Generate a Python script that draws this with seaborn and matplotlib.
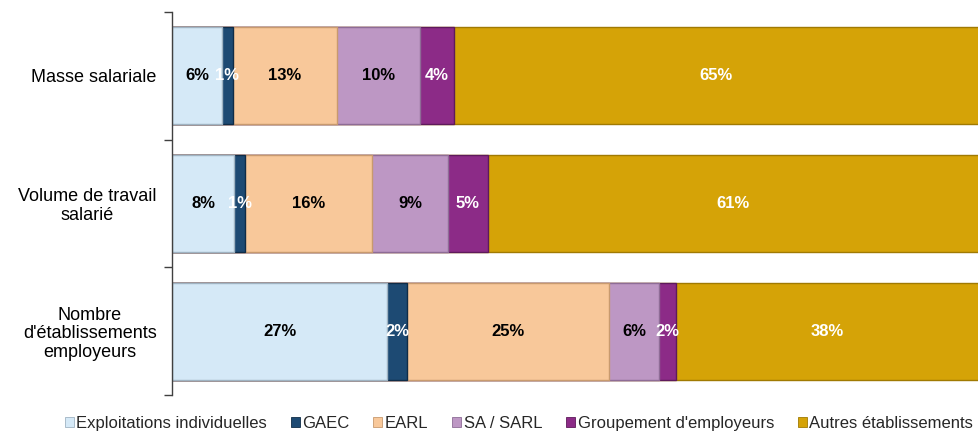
import numpy as np
import pandas as pd
import seaborn as sns
import matplotlib.pyplot as plt
from matplotlib.patches import Patch

# Chart data (percent shares)
CATEGORIES = ["Masse salariale", "Volume de travail\nsalarié",
              "Nombre\nd'établissements\nemployeurs"]
SERIES = ["Exploitations individuelles", "GAEC", "EARL", "SA / SARL",
          "Groupement d'employeurs", "Autres établissements"]
exploitations = [6.2, 7.7, 26.7]
gaec = [1.3, 1.4, 2.4]
earl = [12.9, 15.7, 25.0]
sa_sarl = [10.3, 9.4, 6.3]
groupement = [4.2, 4.9, 2.0]
autres = [65.1, 60.9, 37.6]

COLORS = ["#D5E9F7", "#1D4A73", "#F8C89A", "#BD97C4", "#8C2B87", "#D5A307"]
EDGES = ["#9FB3C2", "#0F2C47", "#C89A6E", "#8E6C96", "#5E1A5B", "#A07A02"]
TEXT_COLORS = ["black", "white", "black", "black", "white", "white"]


def build_frame():
    values = [exploitations, gaec, earl, sa_sarl, groupement, autres]
    df = pd.DataFrame(np.array(values).T, columns=SERIES)
    df.insert(0, "categorie", CATEGORIES)
    return df


def plot_stacked(df):
    sns.set_theme(style="white")
    plt.rcParams["font.family"] = ["Liberation Sans", "DejaVu Sans"]

    fig = plt.figure(figsize=(9.79, 4.33), dpi=100)
    ax = fig.add_axes([0.1757, 0.0878, 0.8243, 0.8845])

    cum = df[SERIES].cumsum(axis=1)
    # classic seaborn stacking: draw cumulative totals from the largest down
    for i in reversed(range(len(SERIES))):
        sns.barplot(x=cum[SERIES[i]], y=df["categorie"], orient="h",
                    color=COLORS[i], edgecolor=EDGES[i], linewidth=1.0,
                    width=0.76, saturation=1, ax=ax)

    for i, s in enumerate(SERIES):
        for j in range(len(df)):
            v = df[s].iloc[j]
            centre = cum[s].iloc[j] - v / 2
            ax.text(centre, j, f"{v:.0f}%", ha="center", va="center",
                    fontsize=12, fontweight="bold", color=TEXT_COLORS[i])

    ax.set_xlim(0, 100)
    ax.set_ylim(2.5, -0.5)
    ax.set_xlabel("")
    ax.set_ylabel("")
    ax.set_xticks([])
    ax.tick_params(axis="y", which="major", length=0, labelsize=13, pad=11)
    ax.set_yticks([-0.5, 0.5, 1.5, 2.5], minor=True)
    ax.tick_params(axis="y", which="minor", length=6, width=1, color="#404040",
                   direction="out", left=True)
    for lab in ax.get_yticklabels():
        lab.set_multialignment("center")
        lab.set_linespacing(1.1)
        lab.set_color("black")
    for side in ["top", "right", "bottom"]:
        ax.spines[side].set_visible(False)
    ax.spines["left"].set_color("#404040")
    ax.spines["left"].set_linewidth(1)

    handles = [Patch(facecolor=c, edgecolor=e, linewidth=0.6)
               for c, e in zip(COLORS, EDGES)]
    fig.legend(handles, SERIES, loc="center", bbox_to_anchor=(0.53, 0.022),
               ncol=6, frameon=False, fontsize=12, handlelength=0.55,
               handleheight=0.55, handletextpad=0.15, columnspacing=1.42,
               borderaxespad=0)

    fig.savefig("out.png", dpi=100)


if __name__ == "__main__":
    data = build_frame()
    plot_stacked(data)
